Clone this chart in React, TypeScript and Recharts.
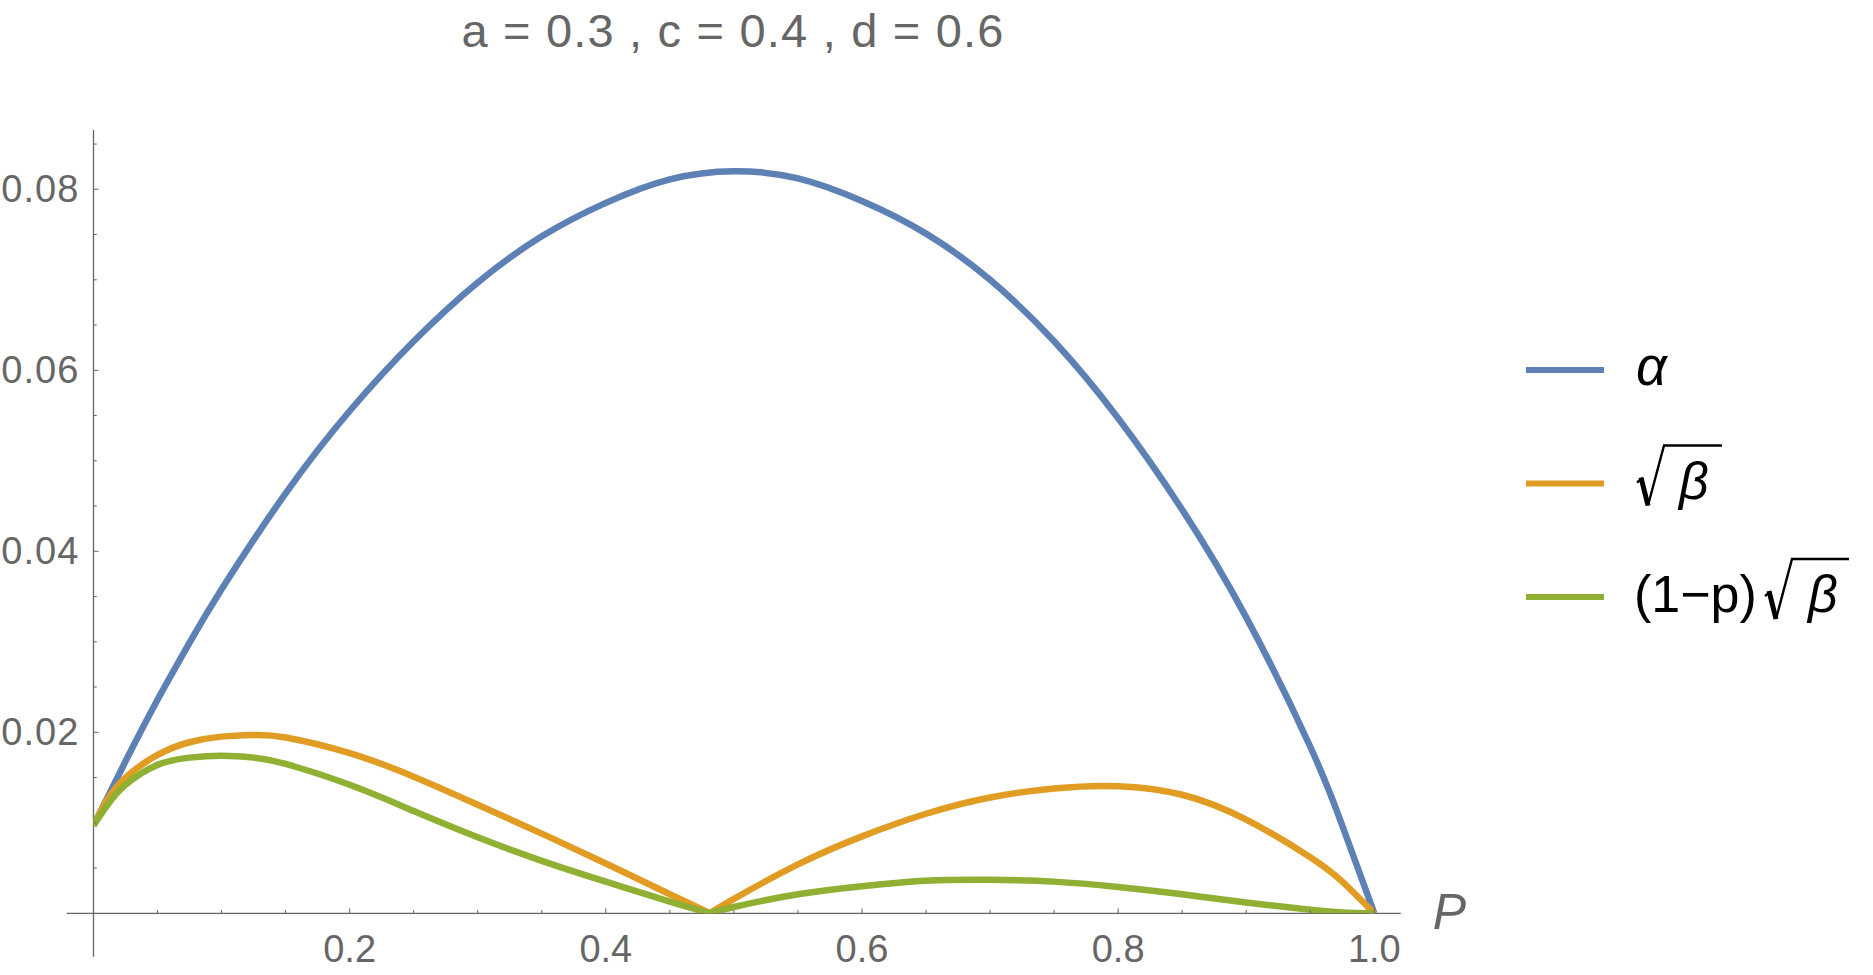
import React from 'react'
import { LineChart, Line, XAxis, YAxis, ReferenceLine, Legend } from 'recharts'

// alpha is smooth over the whole range
const P_ALL = [
  0, 0.025, 0.05, 0.075, 0.1, 0.15, 0.2, 0.25, 0.3, 0.35, 0.4, 0.45,
  0.5, 0.55, 0.6, 0.65, 0.7, 0.75, 0.8, 0.85, 0.9, 0.95, 0.975, 1.0,
]
const ALPHA = [
  0.0097, 0.0168, 0.0236, 0.0299, 0.0358, 0.0464, 0.0555, 0.0632, 0.0697, 0.0748, 0.0785, 0.0811,
  0.082, 0.0812, 0.0787, 0.0751, 0.07, 0.0632, 0.0547, 0.0446, 0.0327, 0.0184, 0.0097, 0,
]

// sqrt(beta) and (1-p)sqrt(beta) have a cusp at p = 0.4813, so each is read in two pieces
const P_LEFT = [0, 0.01, 0.025, 0.05, 0.075, 0.1, 0.125, 0.15, 0.2, 0.25, 0.3, 0.35, 0.4, 0.45, 0.4813]
const P_RIGHT = [0.4813, 0.5, 0.55, 0.6, 0.65, 0.7, 0.75, 0.8, 0.85, 0.9, 0.95, 0.975, 1.0]

const SQRT_BETA_LEFT = [
  0.0097, 0.0124, 0.015, 0.0175, 0.0189, 0.01952, 0.0197, 0.01943, 0.0177, 0.0151, 0.012, 0.0088, 0.0055, 0.0021, 0,
]
const SQRT_BETA_RIGHT = [0, 0.0016, 0.0054, 0.0085, 0.011, 0.0128, 0.0138, 0.01405, 0.0131, 0.01035, 0.0062, 0.0035, 0]

const WEIGHTED_LEFT = [
  0.0097, 0.0118, 0.0142, 0.0164, 0.0172, 0.0174, 0.0172, 0.0165, 0.0142, 0.0113, 0.0084, 0.0058, 0.0035, 0.0013, 0,
]
const WEIGHTED_RIGHT = [0, 0.0007, 0.0021, 0.003, 0.0036, 0.0037, 0.0035, 0.0029, 0.0021, 0.0012, 0.0004, 0.0001, 0]

const X_TICKS = [
  0.05, 0.1, 0.15, 0.2, 0.25, 0.3, 0.35, 0.4, 0.45, 0.5,
  0.55, 0.6, 0.65, 0.7, 0.75, 0.8, 0.85, 0.9, 0.95, 1.0,
]
const Y_TICKS = [
  0.005, 0.01, 0.015, 0.02, 0.025, 0.03, 0.035, 0.04, 0.045,
  0.05, 0.055, 0.06, 0.065, 0.07, 0.075, 0.08, 0.085,
]

// axis extents (Mathematica draws the axes a bit past the plot range)
const X_MIN = -0.0209
const X_MAX = 1.0206
const Y_MIN = -0.0048
const Y_MAX = 0.08655

const TITLE = 'a = 0.3 , c = 0.4 , d = 0.6'

const BLUE = '#5E81B5'
const ORANGE = '#E19C24'
const GREEN = '#8FB032'
const AXIS = '#666666'
const FONT = '"Liberation Sans", Arial, sans-serif'
const LINE_W = 6.5

const alphaData = P_ALL.map((p, i) => ({ p, alpha: ALPHA[i] }))
const betaLeft = P_LEFT.map((p, i) => ({ p, sqrtBeta: SQRT_BETA_LEFT[i] }))
const betaRight = P_RIGHT.map((p, i) => ({ p, sqrtBeta: SQRT_BETA_RIGHT[i] }))
const weightedLeft = P_LEFT.map((p, i) => ({ p, weighted: WEIGHTED_LEFT[i] }))
const weightedRight = P_RIGHT.map((p, i) => ({ p, weighted: WEIGHTED_RIGHT[i] }))

const isMajor = (v: number, step: number) =>
  Math.abs(v / step - Math.round(v / step)) < 1e-6

function XTick(props: any) {
  const { x, y, payload } = props
  const v = payload.value as number
  const major = isMajor(v, 0.2)
  return (
    <g>
      <line x1={x} x2={x} y1={y} y2={y - (major ? 5 : 3.3)} stroke={AXIS} strokeWidth={1} />
      {major && (
        <text x={x} y={y + 48.4} textAnchor="middle" fontSize={38} fill={AXIS} fontFamily={FONT}>
          {v.toFixed(1)}
        </text>
      )}
    </g>
  )
}

function YTick(props: any) {
  const { x, y, payload } = props
  const v = payload.value as number
  const major = isMajor(v, 0.02)
  return (
    <g>
      <line x1={x} x2={x + (major ? 5 : 3.3)} y1={y} y2={y} stroke={AXIS} strokeWidth={1} />
      {major && (
        <text x={x - 14.2} y={y + 13} textAnchor="end" fontSize={38} fill={AXIS} fontFamily={FONT} letterSpacing={1}>
          {v.toFixed(2)}
        </text>
      )}
    </g>
  )
}

function PLabel(props: any) {
  const { viewBox } = props
  return (
    <text
      x={viewBox.x + viewBox.width + 32}
      y={viewBox.y + 16}
      fontSize={50}
      fontStyle="italic"
      fill={AXIS}
      fontFamily={FONT}
    >
      P
    </text>
  )
}

// radical sign + overline, x0 = left of sign, cy = row centre
function Radical({ x0, cy, w }: { x0: number; cy: number; w: number }) {
  return (
    <g fill="none" stroke="#000" strokeLinejoin="miter">
      <path d={`M${x0} ${cy - 1} L${x0 + 5} ${cy - 5}`} strokeWidth={2.5} />
      <path d={`M${x0 + 4} ${cy - 6} L${x0 + 11} ${cy + 22}`} strokeWidth={5} />
      <path d={`M${x0 + 11} ${cy + 22} L${x0 + 27} ${cy - 38} L${x0 + w} ${cy - 38}`} strokeWidth={2.4} />
    </g>
  )
}

function LegendBox(props: any) {
  const seen = new Set<string>()
  const payload = (props.payload || []).filter((entry: any) => {
    if (entry.type === 'none' || seen.has(entry.dataKey)) return false
    seen.add(entry.dataKey)
    return true
  })
  const rowY = [50, 163.5, 277]
  return (
    <svg width={347} height={300} style={{ overflow: 'visible' }}>
      {payload.map((entry: any, i: number) => {
        const cy = rowY[i]
        let label: React.ReactNode = null
        if (entry.dataKey === 'alpha') {
          label = (
            <text x={110} y={cy + 15} fontSize={54} fontStyle="italic" fontFamily={FONT}>
              α
            </text>
          )
        } else if (entry.dataKey === 'sqrtBeta') {
          label = (
            <g>
              <Radical x0={111} cy={cy} w={85} />
              <text x={153} y={cy + 15} fontSize={52} fontStyle="italic" fontFamily={FONT}>
                β
              </text>
            </g>
          )
        } else {
          label = (
            <g>
              <text x={108} y={cy + 15} fontSize={52} fontFamily={FONT}>
                (1−p)
              </text>
              <Radical x0={239} cy={cy} w={84} />
              <text x={282} y={cy + 15} fontSize={52} fontStyle="italic" fontFamily={FONT}>
                β
              </text>
            </g>
          )
        }
        return (
          <g key={entry.dataKey}>
            <line x1={0} x2={78} y1={cy} y2={cy} stroke={entry.color} strokeWidth={6} />
            {label}
          </g>
        )
      })}
    </svg>
  )
}

export default function App() {
  return (
    <div style={{ position: 'absolute', left: 0, top: 0, width: 1873, height: 975, background: '#fff' }}>
      <div
        style={{
          position: 'absolute',
          left: 0,
          top: 6.8,
          width: 1466,
          textAlign: 'center',
          fontFamily: FONT,
          fontSize: 47,
          lineHeight: 1,
          letterSpacing: 1.2,
          color: '#666',
          whiteSpace: 'pre',
        }}
      >
        {TITLE}
      </div>
      <LineChart width={1873} height={975} margin={{ top: 130, right: 472.3, bottom: 0, left: 0 }}>
        <XAxis
          dataKey="p"
          type="number"
          domain={[0, X_MAX]}
          allowDataOverflow
          ticks={X_TICKS}
          interval={0}
          height={61.7}
          axisLine={false}
          tickLine={false}
          tickSize={0}
          tickMargin={0}
          tick={XTick}
          label={<PLabel />}
        />
        <YAxis
          type="number"
          domain={[0, Y_MAX]}
          allowDataOverflow
          ticks={Y_TICKS}
          interval={0}
          width={93.5}
          axisLine={false}
          tickLine={false}
          tickSize={0}
          tickMargin={0}
          tick={YTick}
        />
        <ReferenceLine
          segment={[{ x: X_MIN, y: 0 }, { x: X_MAX, y: 0 }]}
          stroke={AXIS}
          strokeWidth={1.3}
          ifOverflow="visible"
        />
        <ReferenceLine
          segment={[{ x: 0, y: Y_MIN }, { x: 0, y: Y_MAX }]}
          stroke={AXIS}
          strokeWidth={1.3}
          ifOverflow="visible"
        />
        <Line data={alphaData} dataKey="alpha" type="natural" stroke={BLUE} strokeWidth={LINE_W} dot={false} activeDot={false} isAnimationActive={false} />
        <Line data={betaLeft} dataKey="sqrtBeta" type="natural" stroke={ORANGE} strokeWidth={LINE_W} dot={false} activeDot={false} isAnimationActive={false} />
        <Line data={betaRight} dataKey="sqrtBeta" type="natural" stroke={ORANGE} strokeWidth={LINE_W} dot={false} activeDot={false} isAnimationActive={false} legendType="none" />
        <Line data={weightedLeft} dataKey="weighted" type="natural" stroke={GREEN} strokeWidth={LINE_W} dot={false} activeDot={false} isAnimationActive={false} />
        <Line data={weightedRight} dataKey="weighted" type="natural" stroke={GREEN} strokeWidth={LINE_W} dot={false} activeDot={false} isAnimationActive={false} legendType="none" />
        <Legend
          layout="vertical"
          align="center"
          verticalAlign="middle"
          content={LegendBox}
          wrapperStyle={{ left: 1526, top: 320, width: 347, height: 300 }}
        />
      </LineChart>
    </div>
  )
}
